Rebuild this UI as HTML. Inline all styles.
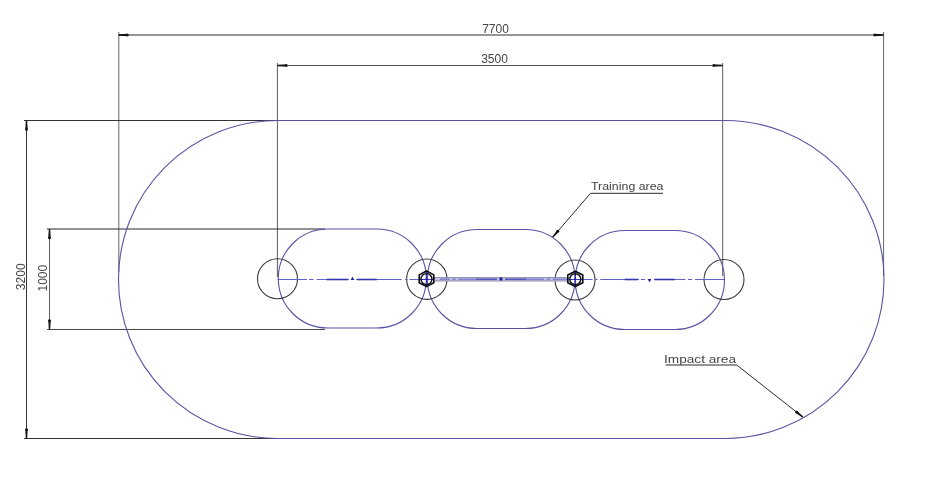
<!DOCTYPE html>
<html><head><meta charset="utf-8">
<style>
html,body{margin:0;padding:0;background:#fff;width:930px;height:486px;overflow:hidden}
svg{display:block}
text{font-family:"Liberation Sans",sans-serif;fill:#444;filter:grayscale(1)}
</style></head><body>
<svg width="930" height="486" viewBox="0 0 930 486">
<rect width="930" height="486" fill="#fff"/>

<g stroke-width="1" fill="none">
<line x1="118.5" y1="35" x2="883.5" y2="35" stroke="#2e2e2e"/>
<line x1="118.8" y1="32" x2="118.8" y2="272" stroke="#666"/>
<line x1="883.6" y1="32" x2="883.6" y2="276" stroke="#666"/>
<line x1="277.5" y1="65.5" x2="722.5" y2="65.5" stroke="#555"/>
<line x1="277.4" y1="63" x2="277.4" y2="277" stroke="#5a5a5a"/>
<line x1="722.7" y1="63" x2="722.7" y2="276" stroke="#5a5a5a"/>
<line x1="26.5" y1="120.5" x2="26.5" y2="438.5" stroke="#333"/>
<line x1="24" y1="120.5" x2="277.5" y2="120.5" stroke="#333"/>
<line x1="24" y1="438.5" x2="277.5" y2="438.5" stroke="#333"/>
<line x1="49.5" y1="229" x2="49.5" y2="329.5" stroke="#606060"/>
<line x1="47" y1="229" x2="325" y2="229" stroke="#262626"/>
<line x1="47" y1="329.5" x2="325" y2="329.5" stroke="#4a4a4a"/>
</g>
<g>
<path d="M118.50,35.70 L128.00,36.25 L128.00,33.75 L118.50,34.30 Z" fill="#151515"/><circle cx="127.40" cy="35.00" r="1.35" fill="#151515"/>
<path d="M883.50,34.30 L874.00,33.75 L874.00,36.25 L883.50,35.70 Z" fill="#151515"/><circle cx="874.60" cy="35.00" r="1.35" fill="#151515"/>
<path d="M277.50,66.20 L287.00,66.75 L287.00,64.25 L277.50,64.80 Z" fill="#151515"/><circle cx="286.40" cy="65.50" r="1.35" fill="#151515"/>
<path d="M722.50,64.80 L713.00,64.25 L713.00,66.75 L722.50,66.20 Z" fill="#151515"/><circle cx="713.60" cy="65.50" r="1.35" fill="#151515"/>
<path d="M25.80,120.50 L25.25,130.00 L27.75,130.00 L27.20,120.50 Z" fill="#151515"/><circle cx="26.50" cy="129.40" r="1.35" fill="#151515"/>
<path d="M27.20,438.50 L27.75,429.00 L25.25,429.00 L25.80,438.50 Z" fill="#151515"/><circle cx="26.50" cy="429.60" r="1.35" fill="#151515"/>
<path d="M48.80,229.00 L48.25,238.50 L50.75,238.50 L50.20,229.00 Z" fill="#151515"/><circle cx="49.50" cy="237.90" r="1.35" fill="#151515"/>
<path d="M50.20,329.50 L50.75,320.00 L48.25,320.00 L48.80,329.50 Z" fill="#151515"/><circle cx="49.50" cy="320.60" r="1.35" fill="#151515"/>
</g>
<text x="495.5" y="32.5" font-size="12" text-anchor="middle">7700</text>
<text x="494.5" y="63" font-size="12" text-anchor="middle">3500</text>
<text transform="translate(24.8,276.8) rotate(-90)" font-size="12" text-anchor="middle">3200</text>
<text transform="translate(47.4,278.2) rotate(-90)" font-size="12" text-anchor="middle">1000</text>
<g stroke="#5654a2" stroke-width="1.1" fill="none">
<path d="M277.5,120.5 H725 A159,159 0 0 1 725,438.5 H277.5 A159,159 0 0 1 277.5,120.5 Z"/>
<path d="M327.8,229 H376.8 A49.5,49.5 0 0 1 376.8,328 H327.8 A49.5,49.5 0 0 1 327.8,229 Z"/>
<path d="M476.9,229.5 H525.5 A49.5,49.5 0 0 1 525.5,328.5 H476.9 A49.5,49.5 0 0 1 476.9,229.5 Z"/>
<path d="M624.7,230.5 H675.0 A49.5,49.5 0 0 1 675.0,329.5 H624.7 A49.5,49.5 0 0 1 624.7,230.5 Z"/>
</g>
<g stroke="#3a3a3a" stroke-width="1.1" fill="none">
<circle cx="277.5" cy="278.8" r="20"/>
<circle cx="426.8" cy="279.2" r="20.2"/>
<circle cx="575" cy="280" r="20"/>
<circle cx="724" cy="279.5" r="20"/>
</g>
<rect x="434" y="277.6" width="134" height="3.4" fill="#c4c4e6" stroke="#8888a8" stroke-width="0.9"/>
<g stroke="#6262cc" stroke-width="1" fill="none">
<line x1="277.5" y1="279.5" x2="307" y2="279.5"/>
<line x1="309" y1="279.5" x2="313.7" y2="279.5"/>
<line x1="316.7" y1="279.5" x2="349" y2="279.5"/>
<line x1="356" y1="279.5" x2="401.6" y2="279.5"/>
<line x1="405" y1="279.5" x2="407.5" y2="279.5"/>
<line x1="409.4" y1="279.5" x2="420" y2="279.5"/>
<line x1="440" y1="279.2" x2="449.8" y2="279.2" stroke="#7474cc" stroke-width="1.2"/>
<line x1="452.4" y1="279.2" x2="455.8" y2="279.2" stroke="#7474cc" stroke-width="1.2"/>
<line x1="458.4" y1="279.2" x2="476" y2="279.2" stroke="#7474cc" stroke-width="1.2"/>
<line x1="526" y1="279.2" x2="544" y2="279.2" stroke="#7474cc" stroke-width="1.2"/>
<line x1="546.6" y1="279.2" x2="550" y2="279.2" stroke="#7474cc" stroke-width="1.2"/>
<line x1="552.6" y1="279.2" x2="568" y2="279.2" stroke="#7474cc" stroke-width="1.2"/>
<line x1="476" y1="279.2" x2="497" y2="279.2" stroke="#4a4ab8" stroke-width="1.4"/>
<line x1="505" y1="279.2" x2="526" y2="279.2" stroke="#4a4ab8" stroke-width="1.4"/>
<line x1="582" y1="279.5" x2="592.6" y2="279.5"/>
<line x1="595" y1="279.5" x2="597.5" y2="279.5"/>
<line x1="600.3" y1="279.5" x2="639" y2="279.5"/>
<line x1="640.8" y1="279.5" x2="645" y2="279.5"/>
<line x1="654" y1="279.5" x2="685.4" y2="279.5"/>
<line x1="688" y1="279.5" x2="692" y2="279.5"/>
<line x1="695" y1="279.5" x2="724" y2="279.5"/>
</g>
<g stroke="#3636b0" stroke-width="1.6" fill="none">
<line x1="326.6" y1="279.5" x2="348" y2="279.5"/>
<line x1="357" y1="279.5" x2="376.7" y2="279.5"/>
<line x1="624.8" y1="279.5" x2="638" y2="279.5"/>
<line x1="654.5" y1="279.5" x2="674.7" y2="279.5"/>
</g>
<g fill="#2020a0"><path d="M350.6,280 L352.5,276.8 L354.4,280 Z"/><path d="M647.6,279 L649.5,282.2 L651.4,279 Z"/><circle cx="501" cy="279" r="1.7"/></g>
<g stroke="#3636c0" stroke-width="1" fill="none">
<line x1="419.5" y1="279.5" x2="433.5" y2="279.5"/><line x1="426.5" y1="272" x2="426.5" y2="286"/>
<line x1="568.5" y1="279.5" x2="582.5" y2="279.5"/><line x1="575.5" y1="272" x2="575.5" y2="286"/>
</g>
<g stroke="#0c0c14" stroke-width="1.6" fill="none" stroke-linejoin="round">
<path d="M426.5,271.0 L433.8,274.90000000000003 L433.8,282.7 L426.5,286.6 L419.2,282.7 L419.2,274.90000000000003 Z"/><circle cx="426.5" cy="279.1" r="5.5" stroke-width="1.4"/>
<path d="M575.3,271.2 L582.8,275.04999999999995 L582.8,282.75 L575.3,286.59999999999997 L567.8,282.75 L567.8,275.04999999999995 Z"/><circle cx="575.3" cy="279.2" r="5.5" stroke-width="1.4"/>
</g>
<g fill="#1818a0"><circle cx="426.6" cy="279.1" r="1"/><circle cx="575.2" cy="279.1" r="1"/></g>
<g stroke="#2a2a2a" stroke-width="1" fill="none"><polyline points="663,193.3 590.5,193.3 552.7,237.2"/><polyline points="665.7,365 736.7,365 802.8,417"/></g>
<path d="M553.15,237.59 L559.23,231.61 L557.26,229.91 L552.25,236.81 Z" fill="#111"/><circle cx="557.85" cy="231.21" r="1.40" fill="#111"/>
<path d="M803.17,416.53 L796.92,410.72 L795.32,412.77 L802.43,417.47 Z" fill="#111"/><circle cx="796.59" cy="412.12" r="1.40" fill="#111"/>
<text x="591" y="190.3" font-size="11.5" textLength="72.5" lengthAdjust="spacingAndGlyphs">Training area</text>
<text x="664" y="362.9" font-size="11.5" textLength="72" lengthAdjust="spacingAndGlyphs">Impact area</text>
</svg>
</body></html>
